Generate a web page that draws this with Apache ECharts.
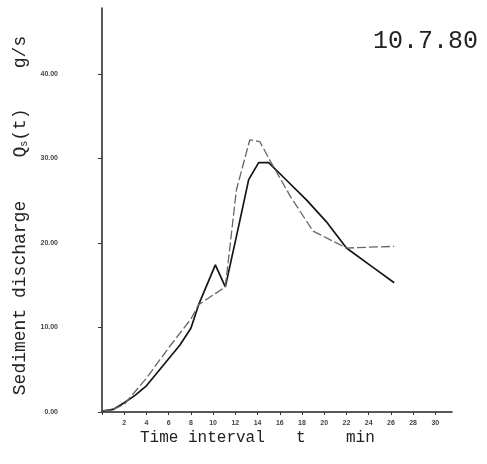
<!DOCTYPE html>
<html>
<head>
<meta charset="utf-8">
<script src="https://cdn.jsdelivr.net/npm/echarts@6/dist/echarts.min.js"></script>
<style>
  html, body { margin: 0; padding: 0; background: #fff; }
  #main { width: 487px; height: 464px; }
</style>
</head>
<body>
<div id="main"></div>
<script>
// data (t in min, Qs in g/s)
var solidT = [0, 1, 2, 3, 4, 5, 6, 7, 8, 8.7, 10.2, 11.1, 12.3, 13.2, 14.1, 15.0, 16.7, 18.4, 20.2, 22.0, 24.3, 26.3];
var solidQ = [0.1, 0.3, 1.1, 2.0, 3.1, 4.7, 6.3, 7.9, 9.9, 12.7, 17.4, 14.8, 22.0, 27.5, 29.5, 29.5, 27.3, 25.1, 22.5, 19.4, 17.2, 15.3];

var dashT = [0, 1, 2, 4, 6, 8, 8.7, 11.1, 12.1, 13.3, 14.2, 15.1, 17.0, 19.0, 22.0, 24.0, 26.3];
var dashQ = [0.1, 0.3, 0.9, 4.0, 7.6, 11.0, 12.7, 14.8, 26.3, 32.2, 32.0, 29.8, 25.4, 21.4, 19.4, 19.5, 19.6];

var yTicks = ['0.00', '10.00', '20.00', '30.00', '40.00'];

function pairs(xs, ys) {
    var out = [];
    for (var i = 0; i < xs.length; i++) {
        out.push([xs[i], ys[i]]);
    }
    return out;
}

var myChart = echarts.init(document.getElementById('main'));

var option = {
    backgroundColor: '#fff',
    animation: false,
    grid: { left: 102, right: 35, top: 8, bottom: 52 },
    xAxis: {
        type: 'value',
        min: 0,
        max: 31.5,
        interval: 2,
        splitLine: { show: false },
        axisLine: { lineStyle: { color: '#222', width: 1.5 } },
        axisTick: { length: 3, lineStyle: { color: '#333' } },
        axisLabel: {
            fontSize: 7,
            fontWeight: 'bold',
            color: '#444',
            margin: 8,
            showMaxLabel: false,
            formatter: function (v) { return (v === 0 || v % 2 !== 0) ? '' : String(v); }
        }
    },
    yAxis: {
        type: 'value',
        min: 0,
        max: 47.8,
        interval: 10,
        splitLine: { show: false },
        axisLine: { lineStyle: { color: '#222', width: 1.5 } },
        axisTick: { length: 4, lineStyle: { color: '#333' } },
        axisLabel: {
            fontSize: 7,
            fontWeight: 'bold',
            color: '#444',
            margin: 44,
            showMaxLabel: false,
            formatter: function (v) {
                if (v % 10 !== 0) return '';
                var i = Math.round(v / 10);
                return yTicks[i] !== undefined ? yTicks[i] : '';
            }
        }
    },
    graphic: [
        {
            type: 'text', left: 373, top: 29,
            style: { text: '10.7.80', font: '25px "Liberation Mono"', fill: '#222' }
        },
        {
            type: 'text', x: 140, y: 438,
            style: { text: 'Time interval', font: '16px "Liberation Mono"', fill: '#222', textVerticalAlign: 'middle' }
        },
        {
            type: 'text', x: 296, y: 438,
            style: { text: 't', font: '16px "Liberation Mono"', fill: '#222', textVerticalAlign: 'middle' }
        },
        {
            type: 'text', x: 346, y: 438,
            style: { text: 'min', font: '16px "Liberation Mono"', fill: '#222', textVerticalAlign: 'middle' }
        },
        {
            type: 'text', x: 20, y: 298, rotation: Math.PI / 2,
            style: { text: 'Sediment discharge', font: '18px "Liberation Mono"', fill: '#222', textAlign: 'center', textVerticalAlign: 'middle' }
        },
        {
            type: 'text', x: 20, y: 133, rotation: Math.PI / 2,
            style: {
                text: '{q|Q}{s|s}{q|(t)}',
                textAlign: 'center', textVerticalAlign: 'middle',
                rich: {
                    q: { font: '18px "Liberation Mono"', fill: '#222' },
                    s: { font: '10px "Liberation Mono"', fill: '#222', padding: [8, 0, 0, 0] }
                }
            }
        },
        {
            type: 'text', x: 20, y: 52, rotation: Math.PI / 2,
            style: { text: 'g/s', font: '18px "Liberation Mono"', fill: '#222', textAlign: 'center', textVerticalAlign: 'middle' }
        }
    ],
    series: [
        {
            name: 'measured',
            type: 'line',
            data: pairs(solidT, solidQ),
            symbol: 'none',
            lineStyle: { color: '#151515', width: 1.7 }
        },
        {
            name: 'computed',
            type: 'line',
            data: pairs(dashT, dashQ),
            symbol: 'none',
            lineStyle: { color: '#666', width: 1.3, type: [9, 3] }
        }
    ]
};
myChart.setOption(option);
</script>
</body>
</html>
